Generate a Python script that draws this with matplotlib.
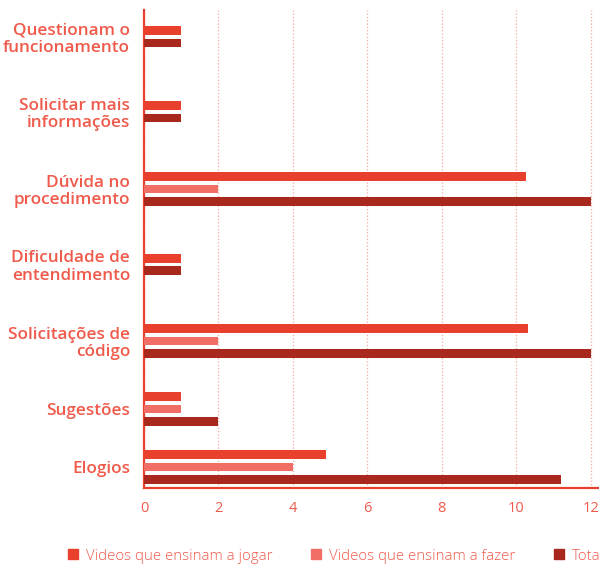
import numpy as np
import matplotlib.pyplot as plt
from matplotlib.lines import Line2D

# comentários por categoria
categorias = ['Questionam o\nfuncionamento', 'Solicitar mais\ninformações', 'Dúvida no\nprocedimento',
              'Dificuldade de\nentendimento', 'Solicitações de\ncódigo', 'Sugestões', 'Elogios']
jogar = [1, 1, 10.25, 1, 10.3, 1, 4.9]
fazer = [0, 0, 2, 0, 2, 1, 4]
total = [1, 1, 12, 1, 12, 2, 11.2]
series_nomes = ['Videos que ensinam a jogar', 'Videos que ensinam a fazer', 'Total']

# posicao vertical de cada grupo (eixo invertido)
linhas = [36.5, 111.5, 189, 264.5, 341, 409, 467]

cor_jogar = '#E8402C'
cor_fazer = '#F06E66'
cor_total = '#A8281E'
cor_texto = '#EF5A4B'
cores = [cor_jogar, cor_fazer, cor_total]

plt.rcParams['font.family'] = ['Open Sans', 'DejaVu Sans']

fig = plt.figure(figsize=(5.99, 5.65), dpi=100)
ax = fig.add_axes([144 / 599, 77 / 565, 1 - 144 / 599, 478 / 565])

passo = 12.5
alt = 8.5
for i, y in enumerate(linhas):
    if fazer[i] > 0:
        offs = [-passo, 0, passo]
        vals = [jogar[i], fazer[i], total[i]]
        cs = cores
    else:
        offs = [-passo / 2, passo / 2]
        vals = [jogar[i], total[i]]
        cs = [cor_jogar, cor_total]
    for o, v, c in zip(offs, vals, cs):
        ax.barh(y + o, v, height=alt, color=c, zorder=3)

ax.set_xlim(0, 12.22)
ax.set_ylim(488, 10)
ax.set_xticks(range(0, 13, 2))
ax.set_yticks(linhas)
ax.set_yticklabels(categorias, fontsize=12.3, fontweight='semibold', color=cor_texto,
                   linespacing=1.12)
ax.tick_params(axis='y', length=0, pad=10)
ax.tick_params(axis='x', length=0, pad=9, labelsize=10.5, labelcolor=cor_texto)
for lab in ax.get_yticklabels():
    lab.set_horizontalalignment('right')

ax.grid(axis='x', color='#F4A9A2', linestyle=':', linewidth=0.9, zorder=0)
ax.set_axisbelow(True)
for s in ['top', 'right']:
    ax.spines[s].set_visible(False)
for s in ['left', 'bottom']:
    ax.spines[s].set_color(cor_jogar)
    ax.spines[s].set_linewidth(1.6)

handles = [Line2D([], [], marker='s', linestyle='none', markersize=7, color=c) for c in cores]
leg = fig.legend(handles, series_nomes, loc='center left', bbox_to_anchor=(65.5 / 599, 1 - 556 / 565),
                 ncol=3, frameon=False, fontsize=10.8, handletextpad=0.37, columnspacing=2.4,
                 borderaxespad=0, borderpad=0, handlelength=1)
for t in leg.get_texts():
    t.set_color(cor_texto)
    t.set_fontweight('light')

fig.savefig('out.png', dpi=100)
